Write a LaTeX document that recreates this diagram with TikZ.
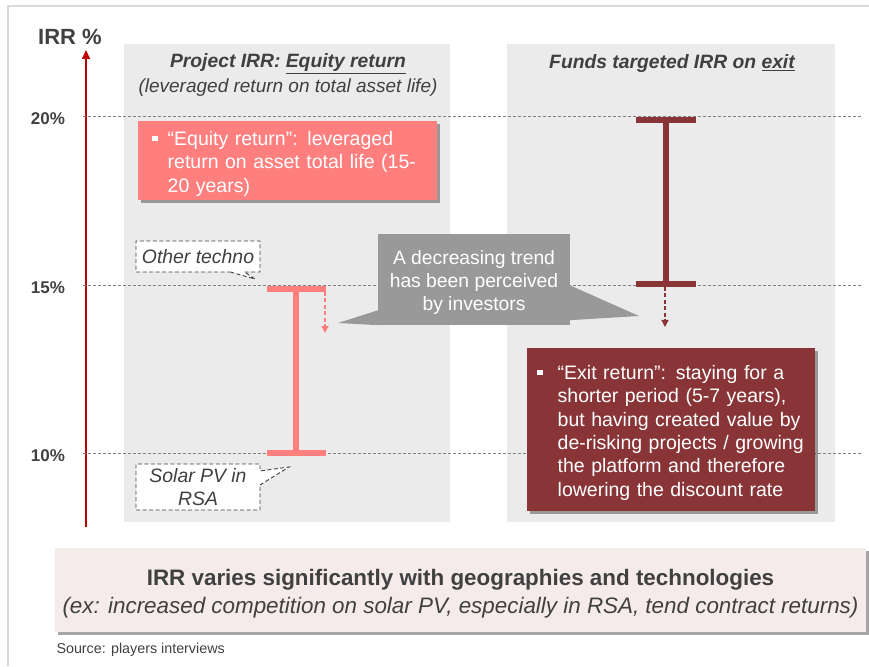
\documentclass[tikz,border=0pt]{standalone}
\usepackage{fontspec}
\setmainfont{Liberation Sans}
\usetikzlibrary{arrows.meta, positioning, calc, shapes.callouts, shadows}

\definecolor{axisred}{HTML}{C00000}
\definecolor{panelgray}{HTML}{EBEBEB}
\definecolor{txtgray}{HTML}{404040}
\definecolor{lightpink}{HTML}{FF7F7F}
\definecolor{darkred}{HTML}{893537}
\definecolor{trendgray}{HTML}{999999}
\definecolor{notepink}{HTML}{F6EBEB}
\definecolor{framegray}{HTML}{D9D9D9}

\newcommand{\sqbullet}{\raisebox{4.5pt}{\rule{5.5pt}{5.5pt}}}
\newcommand{\lowered}[1]{\raisebox{-3.5pt}[\height][\depth]{#1}}

\begin{document}
\begin{tikzpicture}[x=1pt, y=1pt,
  panel/.style={fill=panelgray, draw=none},
  gridline/.style={draw=gray, line width=0.7pt, dash pattern=on 3pt off 2pt},
  pct/.style={font=\fontsize{17}{20}\selectfont\bfseries, text=txtgray},
  beam/.style={line width=6pt},
  droparrow/.style={line width=1.3pt, dash pattern=on 4pt off 2.5pt, -{Triangle[width=7pt,length=7pt]}},
  tag/.style={rectangle callout, draw=txtgray, fill=white, line width=0.9pt, dash pattern=on 4pt off 2.5pt,
    callout pointer width=14pt, minimum width=124pt, inner sep=0pt,
    font=\fontsize{19.4}{23}\selectfont\itshape, text=txtgray, align=center},
  notebox/.style={rectangle, inner ysep=0pt, align=left, text=white,
    font=\fontsize{19.5}{23.3}\selectfont,
    drop shadow={shadow xshift=3pt, shadow yshift=-3pt, fill=black, opacity=0.35}}
]
\useasboundingbox (0,0) rectangle (869,666);

% Frame
\draw[framegray, line width=2.5pt] (8,0) -- (8,660) -- (869,660);

% Panels
\fill[panel] (124,144) rectangle (450,622);
\fill[panel] (507,144) rectangle (835,622);

\node[font=\fontsize{19.3}{22}\selectfont\bfseries\itshape, text=txtgray] (projtitle) at (288,602.5) {Project IRR: \underline{Equity return}};
\node[font=\fontsize{19}{22}\selectfont\itshape, text=txtgray] (projsub) at (288,578) {(leveraged return on total asset life)};
\node[font=\fontsize{19.3}{22}\selectfont\bfseries\itshape, text=txtgray] (fundtitle) at (672,602.5) {Funds targeted IRR on \underline{exit}};

% Axis
\node[font=\fontsize{22}{26}\selectfont\bfseries, text=txtgray] (irr) at (70,629) {IRR \%};
\coordinate (axbot) at (86,139);
\coordinate (axtop) at (86,616);
\draw[axisred, line width=1.6pt, -{Triangle[width=8pt,length=9pt]}] (axbot) -- (axtop);

% Grid lines and labels
\foreach \y/\lab in {550/20, 381/15, 213/10} {
  \draw[gridline] (83,\y) -- (862,\y);
  \node[pct] (p\lab) at (48,\y-3) {\lab\%};
}

% Project IRR range
\coordinate (ptop) at (296,377);
\coordinate (pbot) at (296,213);
\draw[beam, lightpink] (ptop) -- (pbot);
\draw[beam, lightpink] ($(ptop)+(-29,0)$) -- ($(ptop)+(30,0)$);
\draw[beam, lightpink] ($(pbot)+(-29,0)$) -- ($(pbot)+(30,0)$);
\coordinate (pdrop) at (325,374);
\coordinate (pdropend) at (325,333);
\draw[droparrow, lightpink] (pdrop) -- (pdropend);

% Funds IRR range
\coordinate (ftop) at (666,546);
\coordinate (fbot) at (666,382);
\draw[beam, darkred] (ftop) -- (fbot);
\draw[beam, darkred] ($(ftop)+(-30,0)$) -- ($(ftop)+(30,0)$);
\draw[beam, darkred] ($(fbot)+(-30,0)$) -- ($(fbot)+(30,0)$);
\coordinate (fdrop) at (665,379);
\coordinate (fdropend) at (665,339);
\draw[droparrow, darkred] (fdrop) -- (fdropend);

% Technology tags
\coordinate (othertip) at (255,387);
\coordinate (solartip) at (289,199);
\node[tag, minimum height=31pt, callout absolute pointer={(othertip)}] (other) at (198,409.5) {Other techno};
\node[tag, minimum height=46pt, callout absolute pointer={(solartip)}] (solar) at (198,179) {Solar PV in\\RSA};

% Trend callout
\coordinate (ltip) at (338,343);
\coordinate (rtip) at (639,350);
\node[fill=trendgray, text=white, minimum width=192pt, minimum height=91pt, align=center,
  font=\fontsize{19.3}{23.3}\selectfont] (trend) at (474,386.5)
  {\lowered{\begin{tabular}{@{}c@{}}A decreasing trend\\has been perceived\\by investors\end{tabular}}};
\fill[trendgray] ($(trend.south west)+(0.5,15)$) -- (ltip) -- ($(trend.south west)+(0.5,0)$) -- cycle;
\fill[trendgray] ($(trend.south east)+(-0.5,40)$) -- (rtip) -- ($(trend.south east)+(-0.5,5)$) -- cycle;

% Description boxes
\node[notebox, fill=lightpink, anchor=north west, inner xsep=14pt, text width=271pt,
  minimum width=299pt, minimum height=79pt] (equity) at (138,545) {%
  \lowered{\begin{tabular}{@{}l@{\hspace{10pt}}l@{}}
  \sqbullet & “Equity return”: leveraged\\
  & return on asset total life (15-\\
  & 20 years)
  \end{tabular}}};
\node[notebox, fill=darkred, anchor=north west, inner xsep=10pt, text width=268pt,
  minimum width=288pt, minimum height=163pt] (exit) at (527,318) {%
  \lowered{\begin{tabular}{@{}l@{\hspace{15pt}}l@{}}
  \sqbullet & “Exit return”: staying for a\\
  & shorter period (5-7 years),\\
  & but having created value by\\
  & de-risking projects / growing\\
  & the platform and therefore\\
  & lowering the discount rate
  \end{tabular}}};

% Key message
\node[fill=notepink, minimum width=811pt, minimum height=84pt, align=center, text=txtgray,
  font=\fontsize{22.4}{28}\selectfont,
  drop shadow={shadow xshift=3pt, shadow yshift=-3pt, fill=black, opacity=0.35}] (message) at (460.5,76)
  {\lowered{\begin{tabular}{@{}c@{}}\textbf{IRR varies significantly with geographies and technologies}\\
   \textit{(ex: increased competition on solar PV, especially in RSA, tend contract returns)}\end{tabular}}};

\node[anchor=west, font=\fontsize{14.3}{16}\selectfont, text=txtgray] (source) at (53,16) {Source: players interviews};
\end{tikzpicture}
\end{document}
